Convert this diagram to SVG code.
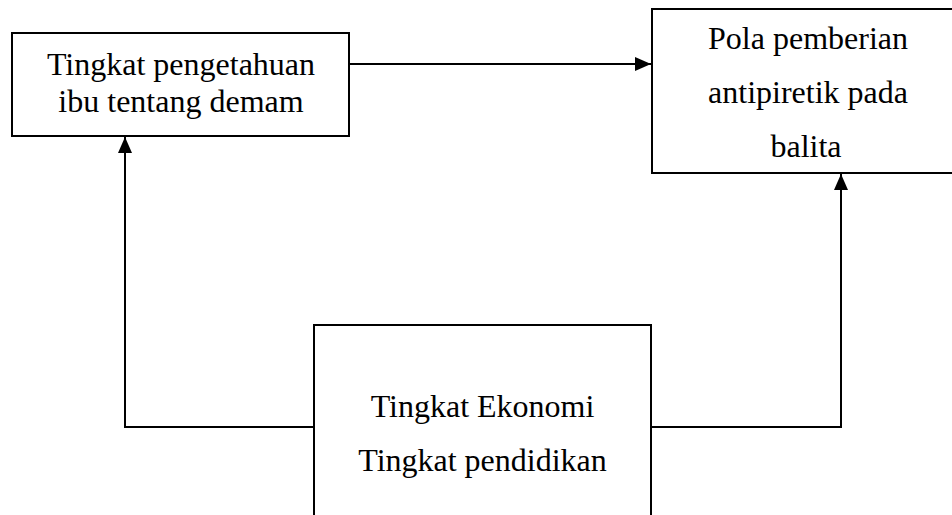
<svg xmlns="http://www.w3.org/2000/svg" width="952" height="515" viewBox="0 0 952 515">
<style>
.box{fill:#fff;stroke:#000;stroke-width:2}
.t{font-family:"Liberation Serif","Times New Roman",serif;font-size:32px;fill:#000;text-anchor:middle}
.c{fill:none;stroke:#000;stroke-width:2}
</style>
<defs>
<marker id="ah" viewBox="0 0 16 14" refX="16" refY="7" markerWidth="16" markerHeight="14" markerUnits="userSpaceOnUse" orient="auto">
<path d="M0,0 L16,7 L0,14 Z" fill="#000"/>
</marker>
</defs>
<rect width="952" height="515" fill="#fff"/>
<g id="node-pengetahuan">
<rect class="box" x="12" y="33" width="337" height="103"/>
<text class="t" x="181" y="75">Tingkat pengetahuan</text>
<text class="t" x="181" y="112">ibu tentang demam</text>
</g>
<g id="node-pola">
<rect class="box" x="652" y="9" width="310" height="164"/>
<text class="t" x="808" y="49">Pola pemberian</text>
<text class="t" x="808" y="103">antipiretik pada</text>
<text class="t" x="806" y="157">balita</text>
</g>
<g id="node-ekonomi">
<rect class="box" x="314" y="325" width="337" height="200"/>
<text class="t" x="482.5" y="417">Tingkat Ekonomi</text>
<text class="t" x="482.5" y="471">Tingkat pendidikan</text>
</g>
<g id="connectors">
<path class="c" d="M349,64 L651,64" marker-end="url(#ah)"/>
<path class="c" d="M314,427 L125,427 L125,137" marker-end="url(#ah)"/>
<path class="c" d="M651,427 L841,427 L841,174" marker-end="url(#ah)"/>
</g>
</svg>
